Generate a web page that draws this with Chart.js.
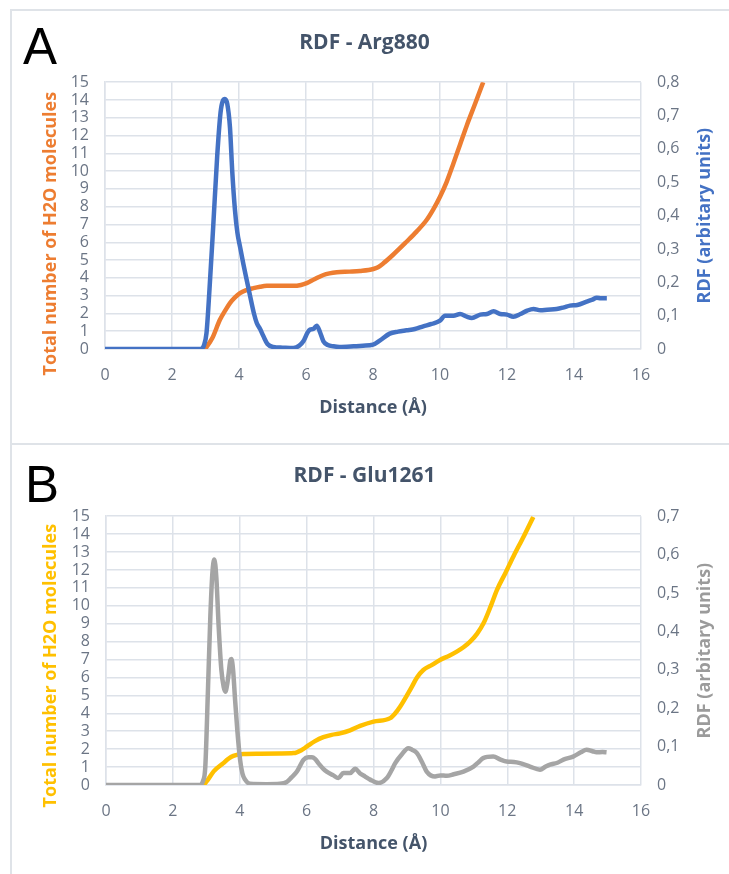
<!DOCTYPE html>
<html>
<head>
<meta charset="utf-8">
<script src="https://cdn.jsdelivr.net/npm/chart.js@4.4.1/dist/chart.umd.min.js"></script>
<style>
  html, body { margin: 0; padding: 0; background: #ffffff; }
  #wrap { position: relative; width: 729px; height: 874px; overflow: hidden; background: #fff; }
  .panel { position: absolute; left: 10px; width: 740px; border-top: 2px solid #dfe3e8; border-left: 2px solid #dfe3e8; box-sizing: border-box; }
  .letter { position: absolute; font-family: "Liberation Sans", Arial, sans-serif; font-size: 51px; line-height: 51px; color: #000; }
  canvas { position: absolute; left: 0; }
</style>
</head>
<body>
<div id="wrap">
  <div class="panel" style="top:9px;height:436px;"></div>
  <div class="panel" style="top:443px;height:440px;"></div>
  <canvas id="chartA" width="729" height="440" style="top:0px;"></canvas>
  <canvas id="chartB" width="729" height="434" style="top:440px;"></canvas>
  <div class="letter" style="left:23px;top:21px;">A</div>
  <div class="letter" style="left:25px;top:459px;">B</div>
</div>
<script>
// ---------------- Data: panel A (Arg880) ----------------
const distA_rdf = [0, 2.85, 2.95, 3.03, 3.12, 3.23, 3.35, 3.45, 3.52, 3.58, 3.65, 3.73, 3.8, 3.88, 3.95, 4.03, 4.13, 4.23, 4.35, 4.45, 4.53, 4.63, 4.73, 4.85, 5.02, 5.3, 5.62, 5.8, 5.92, 6.05, 6.12, 6.22, 6.32, 6.42, 6.52, 6.65, 6.82, 7.0, 7.42, 7.7, 8.0, 8.2, 8.5, 8.75, 9.0, 9.25, 9.5, 9.75, 10.0, 10.15, 10.4, 10.6, 10.8, 10.95, 11.2, 11.4, 11.6, 11.8, 12.0, 12.19, 12.4, 12.6, 12.79, 13.0, 13.2, 13.48, 13.7, 13.88, 14.1, 14.38, 14.55, 14.68, 14.8, 14.98];
const rdfA = [0, 0, 0.01, 0.048, 0.18, 0.367, 0.58, 0.71, 0.745, 0.75, 0.735, 0.665, 0.53, 0.416, 0.35, 0.307, 0.255, 0.207, 0.15, 0.105, 0.078, 0.06, 0.038, 0.015, 0.006, 0.004, 0.003, 0.01, 0.023, 0.05, 0.058, 0.06, 0.07, 0.05, 0.023, 0.012, 0.008, 0.006, 0.008, 0.01, 0.013, 0.025, 0.046, 0.052, 0.056, 0.06, 0.068, 0.075, 0.085, 0.1, 0.1, 0.105, 0.097, 0.093, 0.103, 0.105, 0.113, 0.105, 0.103, 0.097, 0.105, 0.115, 0.12, 0.116, 0.118, 0.12, 0.125, 0.13, 0.132, 0.142, 0.148, 0.154, 0.152, 0.152];
const distA_cum = [2.99, 3.2, 3.43, 3.6, 3.73, 3.88, 4.03, 4.2, 4.43, 4.63, 4.83, 5.2, 5.62, 5.85, 6.02, 6.25, 6.52, 6.7, 6.92, 7.3, 7.61, 8.01, 8.15, 8.31, 8.6, 9.0, 9.3, 9.6, 9.8, 10.0, 10.2, 10.4, 10.6, 10.8, 11.05, 11.29];
const cumA = [0, 0.6, 1.64, 2.2, 2.58, 2.9, 3.14, 3.3, 3.42, 3.5, 3.55, 3.56, 3.55, 3.6, 3.7, 3.92, 4.16, 4.25, 4.31, 4.35, 4.39, 4.5, 4.6, 4.82, 5.3, 6.03, 6.6, 7.25, 7.85, 8.56, 9.4, 10.43, 11.5, 12.57, 13.8, 15.0];

// ---------------- Data: panel B (Glu1261) ----------------
const distB_rdf = [0, 2.8, 2.9, 2.97, 3.05, 3.12, 3.18, 3.24, 3.3, 3.37, 3.45, 3.52, 3.57, 3.62, 3.67, 3.72, 3.75, 3.8, 3.86, 3.93, 4.01, 4.08, 4.16, 4.31, 4.8, 5.2, 5.41, 5.55, 5.71, 5.91, 6.05, 6.16, 6.25, 6.35, 6.5, 6.6, 6.8, 6.95, 7.1, 7.3, 7.45, 7.6, 7.75, 7.9, 8.15, 8.4, 8.55, 8.65, 8.85, 9.04, 9.15, 9.3, 9.45, 9.59, 9.84, 10.0, 10.19, 10.4, 10.69, 10.99, 11.15, 11.28, 11.58, 11.8, 11.98, 12.2, 12.38, 12.68, 12.98, 13.15, 13.28, 13.5, 13.68, 13.97, 14.2, 14.37, 14.55, 14.67, 14.85, 14.97];
const rdfB = [0, 0, 0.01, 0.048, 0.25, 0.438, 0.55, 0.587, 0.54, 0.412, 0.3, 0.255, 0.243, 0.26, 0.291, 0.325, 0.328, 0.3, 0.222, 0.14, 0.066, 0.03, 0.014, 0.003, 0.002, 0.003, 0.008, 0.02, 0.035, 0.066, 0.072, 0.072, 0.068, 0.057, 0.042, 0.035, 0.025, 0.018, 0.031, 0.031, 0.042, 0.03, 0.022, 0.014, 0.005, 0.018, 0.04, 0.057, 0.08, 0.096, 0.092, 0.083, 0.06, 0.035, 0.022, 0.025, 0.024, 0.028, 0.035, 0.048, 0.06, 0.07, 0.074, 0.066, 0.061, 0.06, 0.057, 0.048, 0.04, 0.048, 0.053, 0.058, 0.066, 0.074, 0.085, 0.092, 0.088, 0.085, 0.086, 0.085];
const distB_cum = [2.92, 3.05, 3.22, 3.51, 3.65, 3.81, 4.11, 4.6, 5.2, 5.61, 5.85, 6.01, 6.25, 6.5, 6.75, 7.0, 7.3, 7.6, 8.0, 8.5, 8.65, 8.8, 9.0, 9.15, 9.3, 9.49, 9.75, 9.99, 10.25, 10.49, 10.7, 10.89, 11.1, 11.29, 11.5, 11.69, 11.95, 12.18, 12.5, 12.78];
const cumB = [0, 0.3, 0.76, 1.22, 1.45, 1.63, 1.73, 1.75, 1.76, 1.78, 1.95, 2.15, 2.45, 2.67, 2.8, 2.88, 3.05, 3.3, 3.54, 3.73, 4.0, 4.38, 5.0, 5.49, 6.0, 6.42, 6.7, 6.98, 7.2, 7.44, 7.7, 8.0, 8.45, 9.02, 9.95, 10.88, 11.85, 12.74, 13.9, 14.96];

// ---------------- Axis ranges / labels ----------------
const xTicks = { min: 0, max: 16, step: 2 };
const leftTicks = { min: 0, max: 15, step: 1 };
const rightTicksA = { min: 0, max: 0.8, step: 0.1 };
const rightTicksB = { min: 0, max: 0.7, step: 0.1 };
const xTitle = 'Distance (Å)';
const leftTitle = 'Total number of H2O molecules';
const rightTitle = 'RDF (arbitary units)';

const zip = (xs, ys) => xs.map((x, i) => ({ x: x, y: ys[i] }));

const GRID = '#dde2e9';
const TICK = '#6b7585';
const TITLE = '#44546a';
const FONT = '"Open Sans", "Liberation Sans", sans-serif';

const sideTitles = {
  id: 'sideTitles',
  afterDraw(chart, args, opts) {
    const { ctx, chartArea } = chart;
    const cy = (chartArea.top + chartArea.bottom) / 2;
    (opts.items || []).forEach(it => {
      ctx.save();
      ctx.translate(it.x, cy + it.dy);
      ctx.rotate(-Math.PI / 2);
      ctx.font = 'bold 18px ' + FONT;
      ctx.fillStyle = it.color;
      ctx.textAlign = 'center';
      ctx.textBaseline = 'middle';
      ctx.fillText(it.text, 0, 0);
      ctx.restore();
    });
  }
};

function fmtComma(v) {
  if (Math.abs(v) < 1e-9) return '0';
  return (Math.round(v * 10) / 10).toFixed(1).replace('.', ',');
}

function makeChart(id, cfg) {
  return new Chart(document.getElementById(id), {
    type: 'line',
    data: {
      datasets: [
        {
          label: 'RDF',
          data: zip(cfg.rdfX, cfg.rdfY),
          yAxisID: 'y1',
          borderColor: cfg.rdfColor,
          borderWidth: 4.5,
          pointRadius: 0,
          cubicInterpolationMode: 'monotone',
          fill: false
        },
        {
          label: 'Total number of H2O molecules',
          data: zip(cfg.cumX, cfg.cumY),
          yAxisID: 'y',
          borderColor: cfg.cumColor,
          borderWidth: 4.5,
          pointRadius: 0,
          cubicInterpolationMode: 'monotone',
          fill: false
        }
      ]
    },
    options: {
      responsive: false,
      animation: false,
      devicePixelRatio: 1,
      layout: { padding: 0 },
      plugins: {
        legend: { display: false },
        tooltip: { enabled: false },
        title: {
          display: true,
          text: cfg.title,
          color: TITLE,
          font: { family: FONT, size: 21, weight: 'bold', lineHeight: 1.2 },
          padding: { top: cfg.titleTop, bottom: cfg.titleBottom }
        },
        sideTitles: {
          items: [
            { text: leftTitle, color: cfg.cumColor, x: 51, dy: cfg.leftDy },
            { text: rightTitle, color: cfg.rdfTitleColor, x: 705, dy: 0 }
          ]
        }
      },
      scales: {
        x: {
          type: 'linear',
          min: xTicks.min, max: xTicks.max,
          ticks: { stepSize: xTicks.step, autoSkip: false, color: TICK, padding: 17, font: { family: FONT, size: 16 } },
          grid: { color: GRID, lineWidth: 1.5, drawTicks: false },
          border: { color: GRID, width: 1.5 },
          title: { display: true, text: xTitle, color: TITLE, font: { family: FONT, size: 18, weight: 'bold', lineHeight: 1.2 }, padding: { top: 0, bottom: cfg.xTitleBottom } },
          afterFit: s => { s.height = cfg.xAxisH; }
        },
        y: {
          position: 'left',
          min: leftTicks.min, max: leftTicks.max,
          ticks: { stepSize: leftTicks.step, autoSkip: false, color: TICK, padding: 16, font: { family: FONT, size: 16, lineHeight: 1 } },
          grid: { color: GRID, lineWidth: 1.5, drawTicks: false },
          border: { color: GRID, width: 1.5 },
          afterFit: s => { s.width = cfg.leftW; }
        },
        y1: {
          position: 'right',
          min: cfg.right.min, max: cfg.right.max,
          ticks: { stepSize: cfg.right.step, autoSkip: false, color: TICK, padding: 16, font: { family: FONT, size: 16 }, callback: v => fmtComma(v) },
          grid: { display: false, drawOnChartArea: false, drawTicks: false },
          border: { display: false },
          afterFit: s => { s.width = cfg.rightW; }
        }
      }
    },
    plugins: [sideTitles]
  });
}

makeChart('chartA', {
  title: 'RDF - Arg880',
  rdfX: distA_rdf, rdfY: rdfA, cumX: distA_cum, cumY: cumA,
  rdfColor: '#4472c4', rdfTitleColor: '#4472c4', cumColor: '#ed7d31',
  right: rightTicksA,
  titleTop: 30, titleBottom: 27,
  xAxisH: 91, xTitleBottom: 21,
  leftW: 105, rightW: 88, leftDy: 18
});

makeChart('chartB', {
  title: 'RDF - Glu1261',
  rdfX: distB_rdf, rdfY: rdfB, cumX: distB_cum, cumY: cumB,
  rdfColor: '#a5a5a5', rdfTitleColor: '#9b9b9b', cumColor: '#ffc000',
  right: rightTicksB,
  titleTop: 23, titleBottom: 28,
  xAxisH: 89, xTitleBottom: 19,
  leftW: 106, rightW: 88, leftDy: 15
});
</script>
</body>
</html>
